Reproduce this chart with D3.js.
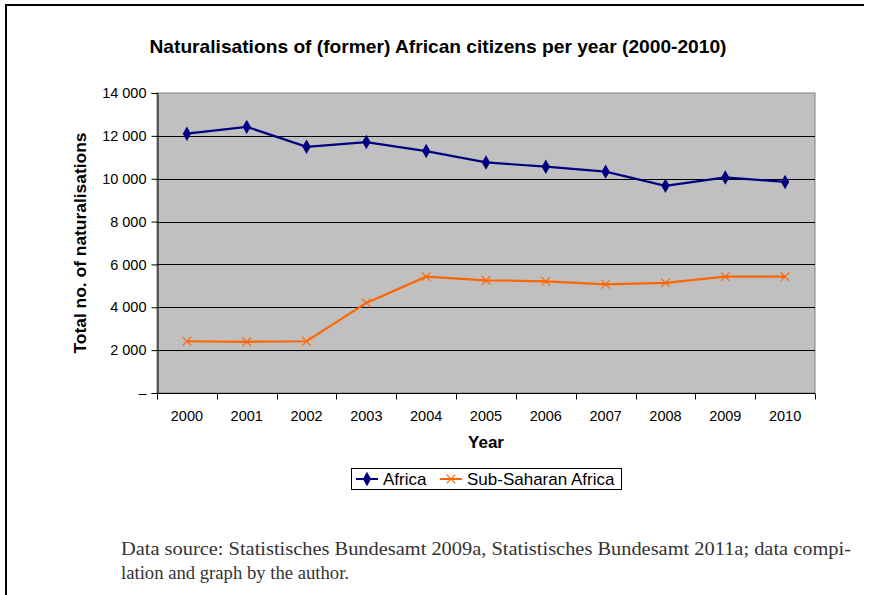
<!DOCTYPE html>
<html><head><meta charset="utf-8">
<script src="https://cdn.jsdelivr.net/npm/d3@7"></script>
<style>body{margin:0;background:#fff}svg{display:block}</style>
</head><body>
<svg id="c" width="872" height="595"></svg>
<script>
const years = ["2000","2001","2002","2003","2004","2005","2006","2007","2008","2009","2010"];
const africa = [12100,12420,11490,11710,11290,10760,10560,10330,9670,10060,9850];
const subSaharan = [2415,2390,2415,4205,5430,5260,5210,5070,5140,5430,5430];
const yTicks = [0,2000,4000,6000,8000,10000,12000,14000];
const seriesNames = ["Africa","Sub-Saharan Africa"];
const colors = ["#000080","#ff6600"];

const svg = d3.select("#c");
const m = {l:157, r:815, t:93, b:393};
const x = d3.scaleBand().domain(years).range([m.l, m.r]);
const y = d3.scaleLinear().domain([0,14000]).range([m.b, m.t]);
const font = "'Liberation Sans', Arial, sans-serif";

// outer frame
svg.append("line").attr("x1",5).attr("x2",864).attr("y1",5).attr("y2",5).attr("stroke","#000").attr("stroke-width",2);
svg.append("line").attr("x1",6).attr("x2",6).attr("y1",4).attr("y2",595).attr("stroke","#000").attr("stroke-width",2);

// title
svg.append("text").attr("x",438).attr("y",53).attr("text-anchor","middle")
  .attr("font-family",font).attr("font-weight","bold").attr("font-size",18.5)
  .attr("textLength",577).attr("lengthAdjust","spacingAndGlyphs")
  .text("Naturalisations of (former) African citizens per year (2000-2010)");

// plot background
svg.append("rect").attr("x",m.l).attr("y",m.t).attr("width",m.r-m.l).attr("height",m.b-m.t)
  .attr("fill","#c0c0c0").attr("stroke","#808080").attr("stroke-width",1);

// grid
svg.append("g").selectAll("line").data(yTicks.filter(d=>d>0 && d<14000)).join("line")
  .attr("x1",m.l).attr("x2",m.r).attr("y1",d=>Math.round(y(d))+0.5).attr("y2",d=>Math.round(y(d))+0.5)
  .attr("stroke","#000").attr("stroke-width",1);

// y axis
const yAxis = d3.axisLeft(y).tickValues(yTicks).tickSize(6).tickPadding(5)
  .tickFormat(d => d===0 ? "–" : d3.format(",")(d).replace(/,/g," "));
const gy = svg.append("g").attr("transform",`translate(${m.l+0.5},0)`).call(yAxis);
gy.select(".domain").attr("stroke","#000");
gy.selectAll("line").attr("stroke","#000");
gy.selectAll("text").attr("font-family",font).attr("font-size",14.5).attr("fill","#000");

// x axis with ticks at band boundaries
const gx = svg.append("g").attr("transform",`translate(0,${m.b+0.5})`);
gx.append("line").attr("x1",m.l).attr("x2",m.r).attr("stroke","#000");
const bounds = years.map(d=>x(d)).concat([m.r]);
gx.selectAll("line.tk").data(bounds).join("line").attr("class","tk")
  .attr("x1",d=>Math.round(d)+0.5).attr("x2",d=>Math.round(d)+0.5).attr("y1",0).attr("y2",6).attr("stroke","#000");
gx.selectAll("text").data(years).join("text")
  .attr("x",d=>x(d)+x.bandwidth()/2).attr("y",27).attr("text-anchor","middle")
  .attr("font-family",font).attr("font-size",14.5).text(d=>d);

// axis titles
svg.append("text").attr("x",486).attr("y",448).attr("text-anchor","middle")
  .attr("font-family",font).attr("font-weight","bold").attr("font-size",17).text("Year");
svg.append("text").attr("transform","translate(86,243) rotate(-90)").attr("text-anchor","middle")
  .attr("font-family",font).attr("font-weight","bold").attr("font-size",17)
  .attr("textLength",221).attr("lengthAdjust","spacingAndGlyphs").text("Total no. of naturalisations");

// lines
const cx = d => x(d)+x.bandwidth()/2;
const line = d3.line().x((d,i)=>cx(years[i])).y(d=>y(d));
svg.append("path").datum(africa).attr("d",line).attr("fill","none").attr("stroke",colors[0]).attr("stroke-width",2.2);
svg.append("path").datum(subSaharan).attr("d",line).attr("fill","none").attr("stroke",colors[1]).attr("stroke-width",2.2);

const diamond = d3.symbol().type(d3.symbolDiamond).size(60);
svg.append("g").selectAll("path").data(africa).join("path")
  .attr("d",diamond).attr("transform",(d,i)=>`translate(${cx(years[i])},${y(d)})`).attr("fill",colors[0]);
const cross = d3.symbol().type(d3.symbolX).size(50);
svg.append("g").selectAll("path").data(subSaharan).join("path")
  .attr("d",cross).attr("transform",(d,i)=>`translate(${cx(years[i])},${y(d)})`)
  .attr("fill","none").attr("stroke",colors[1]).attr("stroke-width",1.2);

// legend
const lg = svg.append("g");
lg.append("rect").attr("x",351.5).attr("y",468.5).attr("width",270).attr("height",21).attr("fill","#fff").attr("stroke","#000");
const items = [{x:356, tx:383}, {x:440, tx:467}];
items.forEach((it,i)=>{
  lg.append("line").attr("x1",it.x).attr("x2",it.x+22).attr("y1",479).attr("y2",479).attr("stroke",colors[i]).attr("stroke-width",2);
  if(i===0) lg.append("path").attr("d",diamond).attr("transform",`translate(${it.x+11},479)`).attr("fill",colors[0]);
  else lg.append("path").attr("d",cross).attr("transform",`translate(${it.x+11},479)`).attr("fill","none").attr("stroke",colors[1]).attr("stroke-width",1.2);
  lg.append("text").attr("x",it.tx).attr("y",485).attr("font-family",font).attr("font-size",17).text(seriesNames[i]);
});

// footnote
const serif = "'Liberation Serif', 'DejaVu Serif', serif";
svg.append("text").attr("x",121).attr("y",555).attr("font-family",serif).attr("font-size",18.5).attr("fill","#333")
  .attr("textLength",730).attr("lengthAdjust","spacingAndGlyphs")
  .text("Data source: Statistisches Bundesamt 2009a, Statistisches Bundesamt 2011a; data compi-");
svg.append("text").attr("x",121).attr("y",579).attr("font-family",serif).attr("font-size",18.5).attr("fill","#333")
  .attr("textLength",228).attr("lengthAdjust","spacingAndGlyphs")
  .text("lation and graph by the author.");
</script>
</body></html>
